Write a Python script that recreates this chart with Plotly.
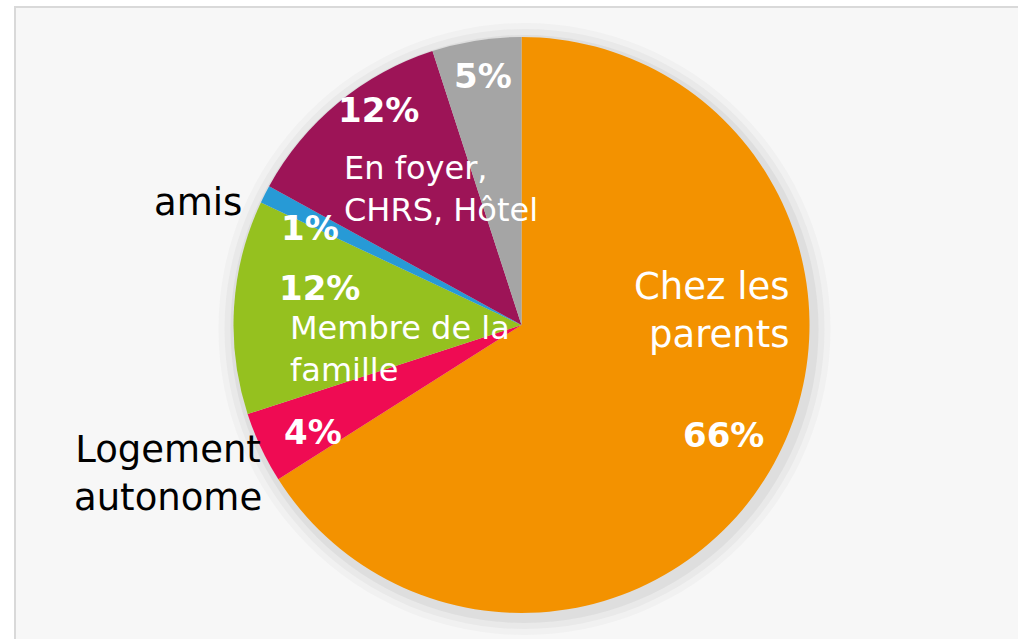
import plotly.graph_objects as go

# ---- data ----
categories = ["Chez les parents", "Logement autonome", "Membre de la famille",
              "amis", "En foyer, CHRS, Hôtel", "Autre"]
values = [66, 4, 12, 1, 12, 5]
colors = ["#F39200", "#EF0B53", "#95C11F", "#279AD6", "#9D1457", "#A5A5A5"]

W, H = 1018, 639

def px(x):
    return x / W

def py(y):
    return 1 - y / H

# pie geometry (pixels)
cx, cy, r = 521.5, 325, 288

fig = go.Figure()
fig.add_trace(go.Pie(
    labels=categories, values=values, sort=False, direction="clockwise",
    rotation=0, marker=dict(colors=colors, line=dict(width=0)),
    textinfo="none", hoverinfo="label+percent", showlegend=False,
    domain=dict(x=[px(cx - r), px(cx + r)], y=[py(cy + r), py(cy - r)]),
))

shapes = []
# chart area with border
shapes.append(dict(type="rect", xref="paper", yref="paper",
                   x0=px(15), x1=px(W + 10), y0=py(H + 10), y1=py(7),
                   fillcolor="#F7F7F7", line=dict(color="#D9D9D9", width=2),
                   layer="below"))
# soft shadow around the pie
for extra, op in [(18, 0.04), (12, 0.05), (6, 0.07)]:
    shapes.append(dict(type="circle", xref="paper", yref="paper",
                       x0=px(cx - r - extra + 3), x1=px(cx + r + extra + 3),
                       y0=py(cy + r + extra + 4), y1=py(cy - r - extra + 4),
                       fillcolor="rgba(90,90,90,%s)" % op, line=dict(width=0),
                       layer="below"))

FONT = "DejaVu Sans"
pct_pos = [(723, 435), (313, 432), (319, 288), (310, 228), (378, 110), (483, 76)]
ann = []
for v, (x, y) in zip(values, pct_pos):
    ann.append(dict(text="<b>%d%%</b>" % v, x=px(x), y=py(y), xref="paper",
                    yref="paper", showarrow=False, xanchor="center",
                    yanchor="middle",
                    font=dict(family=FONT, size=34, color="white")))

cat_text = [
    ("Chez les<br>parents", 792, 311, "right", "white", 37),
    ("Logement<br>autonome", 168, 473, "center", "black", 37),
    ("Membre de la<br>famille", 288, 349, "left", "white", 32),
    ("amis", 198, 202, "center", "black", 37),
    ("En foyer,<br>CHRS, Hôtel", 342, 189, "left", "white", 32),
]
for t, x, y, al, col, sz in cat_text:
    ann.append(dict(text=t, x=px(x), y=py(y), xref="paper", yref="paper",
                    showarrow=False, xanchor=al, yanchor="middle", align=al,
                    font=dict(family=FONT, size=sz, color=col)))

fig.update_layout(
    width=W, height=H, margin=dict(l=0, r=0, t=0, b=0),
    paper_bgcolor="white", plot_bgcolor="white",
    shapes=shapes, annotations=ann,
)
fig.write_html("out.html", config={"displayModeBar": False},
               post_script="document.body.style.margin='0';"
                           "document.body.style.overflow='hidden';")
